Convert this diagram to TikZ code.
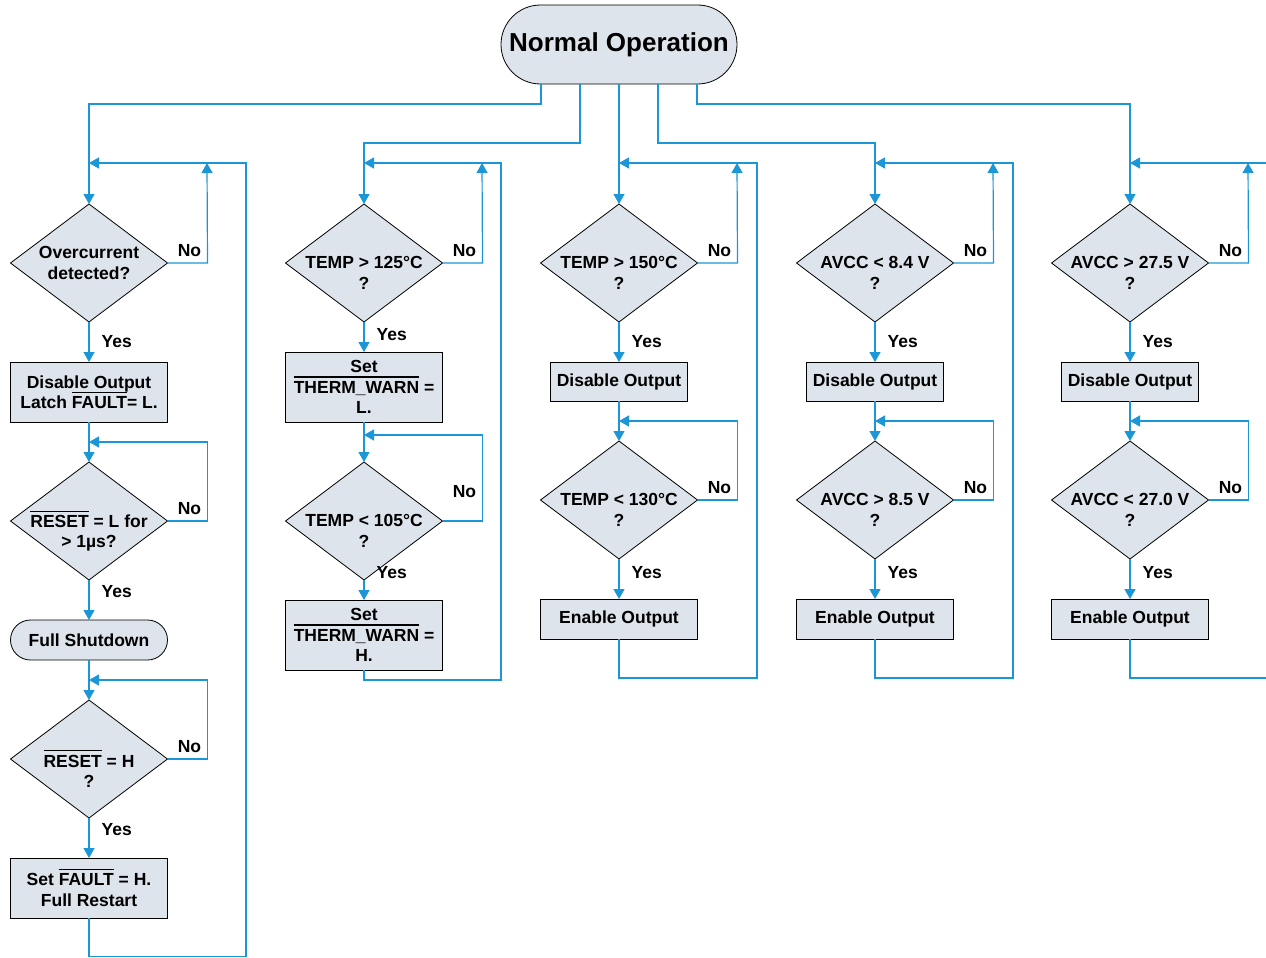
\documentclass[tikz,border=0pt]{standalone}
\usepackage{fontspec}
\setmainfont{Liberation Sans}
\usepackage{tikz}
\usetikzlibrary{shapes.geometric, arrows.meta, positioning, calc}

\definecolor{flowblue}{RGB}{27,150,214}
\definecolor{boxgray}{RGB}{222,228,235}

\newcommand{\notsig}[1]{\leavevmode\vbox{\hrule height 1.1pt\kern 3.5pt\hbox{#1}}}

\begin{document}
\begin{tikzpicture}[
    x=1pt, y=-1pt,
    node distance=40pt,
    font=\fontsize{17.5}{20.5}\selectfont\bfseries,
    test/.style={diamond, draw, fill=boxgray, line width=0.8pt, outer sep=0pt, minimum width=157pt, minimum height=118pt, inner sep=0pt},
    qtext/.style={align=center, inner sep=0pt, yshift=-10pt},
    act/.style={rectangle, draw, fill=boxgray, line width=0.8pt, outer sep=0pt, minimum width=157pt, minimum height=60pt, inner sep=0pt, align=center},
    state/.style={rectangle, rounded corners=20pt, draw, fill=boxgray, line width=0.8pt, outer sep=0pt, minimum width=157pt, minimum height=40pt, inner sep=0pt},
    arrow/.style={-{Triangle[length=10pt, width=11pt]}, draw=flowblue, line width=1.2pt},
    no/.style={above=6pt, pos=0.55, inner sep=0pt},
    yes/.style={right=12pt, inner sep=0pt}
]
    \useasboundingbox (0,0) rectangle (1266,958);

    \node[state, rounded corners=39.5pt, minimum width=236pt, minimum height=79pt, font=\fontsize{26}{30}\selectfont\bfseries] (normal) at (619,44.5) {Normal Operation};

    % overcurrent
    \node[test, label={[qtext, yshift=10pt]center:{Overcurrent\\detected?}}] (ocp) at (89,263) {};
    \node[act, below=of ocp] (latch) {Disable Output\\Latch \notsig{FAULT}= L.};
    \node[test, below=of latch, label={[qtext]center:{\notsig{RESET} = L for\\> 1µs?}}] (rstlo) {};
    \node[state, below=of rstlo] (shut) {Full Shutdown};
    \node[test, below=of shut, label={[qtext]center:{\notsig{RESET} = H\\?}}] (rsthi) {};
    \node[act, below=of rsthi] (restart) {Set \notsig{FAULT} = H.\\Full Restart};

    % thermal warning
    \node[test, label={[qtext]center:{TEMP > 125°C\\?}}] (warn1) at (364,263) {};
    \node[act, minimum height=70pt, below=30pt of warn1] (warnL) {Set\\\notsig{THERM\_WARN} =\\L.};
    \node[test, below=of warnL, label={[qtext]center:{TEMP < 105°C\\?}}] (warn2) {};
    \node[act, minimum height=70pt, below=20pt of warn2] (warnH) {Set\\\notsig{THERM\_WARN} =\\H.};

    % thermal shutdown
    \node[test, label={[qtext]center:{TEMP > 150°C\\?}}] (tsd1) at (619,263) {};
    \node[act, minimum width=137pt, minimum height=39pt, below=of tsd1] (tsdoff) {Disable Output};
    \node[test, below=of tsdoff, label={[qtext]center:{TEMP < 130°C\\?}}] (tsd2) {};
    \node[act, minimum height=40pt, below=of tsd2] (tsdon) {Enable Output};

    % undervoltage
    \node[test, label={[qtext]center:{AVCC < 8.4 V\\?}}] (uv1) at (875,263) {};
    \node[act, minimum width=137pt, minimum height=39pt, below=of uv1] (uvoff) {Disable Output};
    \node[test, below=of uvoff, label={[qtext]center:{AVCC > 8.5 V\\?}}] (uv2) {};
    \node[act, minimum height=40pt, below=of uv2] (uvon) {Enable Output};

    % overvoltage
    \node[test, label={[qtext]center:{AVCC > 27.5 V\\?}}] (ov1) at (1130,263) {};
    \node[act, minimum width=137pt, minimum height=39pt, below=of ov1] (ovoff) {Disable Output};
    \node[test, below=of ovoff, label={[qtext]center:{AVCC < 27.0 V\\?}}] (ov2) {};
    \node[act, minimum height=40pt, below=of ov2] (ovon) {Enable Output};

    % entry points of the loops
    \coordinate (ocpin) at (ocp.north |- 0,163);
    \coordinate (warnin) at (warn1.north |- 0,163);
    \coordinate (tsdin) at (tsd1.north |- 0,163);
    \coordinate (uvin) at (uv1.north |- 0,163);
    \coordinate (ovin) at (ov1.north |- 0,163);
    \coordinate (rstloin) at ($(latch.south)!0.5!(rstlo.north)$);
    \coordinate (rsthiin) at ($(shut.south)!0.5!(rsthi.north)$);
    \coordinate (warn2in) at ($(warnL.south)+(0,13)$);
    \coordinate (tsd2in) at ($(tsdoff.south)!0.5!(tsd2.north)$);
    \coordinate (uv2in) at ($(uvoff.south)!0.5!(uv2.north)$);
    \coordinate (ov2in) at ($(ovoff.south)!0.5!(ov2.north)$);

    % from Normal Operation
    \draw[arrow] ([xshift=-78pt]normal.south) -- ++(0,20) -| (ocp.north);
    \draw[arrow] ([xshift=-39pt]normal.south) -- ++(0,59) -| (warn1.north);
    \draw[arrow] (normal.south) -- (tsd1.north);
    \draw[arrow] ([xshift=39pt]normal.south) -- ++(0,59) -| (uv1.north);
    \draw[arrow] ([xshift=78pt]normal.south) -- ++(0,20) -| (ov1.north);

    % overcurrent branch
    \draw[arrow] (ocp.east) -- node[no] {No} ++(40,0) -- ($(ocpin)+(118,0)$);
    \draw[arrow] (ocp.south) -- node[yes] {Yes} (latch.north);
    \draw[arrow] (latch.south) -- (rstlo.north);
    \draw[arrow] (rstlo.east) -- node[no] {No} ++(40,0) |- (rstloin);
    \draw[arrow] (rstlo.south) -- node[yes, pos=0.3] {Yes} (shut.north);
    \draw[arrow] (shut.south) -- (rsthi.north);
    \draw[arrow] (rsthi.east) -- node[no] {No} ++(40,0) |- (rsthiin);
    \draw[arrow] (rsthi.south) -- node[yes, pos=0.3] {Yes} (restart.north);
    \draw[arrow] (restart.south) -- ++(0,38.5) -| ($(ocpin)+(157,0)$) -- (ocpin);

    % thermal warning branch
    \draw[arrow] (warn1.east) -- node[no] {No} ++(40,0) -- ($(warnin)+(118,0)$);
    \draw[arrow] (warn1.south) -- node[yes, pos=0.43] {Yes} (warnL.north);
    \draw[arrow] (warnL.south) -- (warn2.north);
    \draw[arrow] (warn2.east) -- node[no, above=23pt] {No} ++(40,0) |- (warn2in);
    \draw[arrow] (warn2.south) -- node[yes, pos=-0.35] {Yes} (warnH.north);
    \draw[arrow] (warnH.south) -- ++(0,10) -| ($(warnin)+(137,0)$) -- (warnin);

    % thermal shutdown branch
    \draw[arrow] (tsd1.east) -- node[no] {No} ++(40,0) -- ($(tsdin)+(118,0)$);
    \draw[arrow] (tsd1.south) -- node[yes] {Yes} (tsdoff.north);
    \draw[arrow] (tsdoff.south) -- (tsd2.north);
    \draw[arrow] (tsd2.east) -- node[no] {No} ++(40,0) |- (tsd2in);
    \draw[arrow] (tsd2.south) -- node[yes, pos=0.35] {Yes} (tsdon.north);
    \draw[arrow] (tsdon.south) -- ++(0,39) -| ($(tsdin)+(138,0)$) -- (tsdin);

    % undervoltage branch
    \draw[arrow] (uv1.east) -- node[no] {No} ++(40,0) -- ($(uvin)+(118,0)$);
    \draw[arrow] (uv1.south) -- node[yes] {Yes} (uvoff.north);
    \draw[arrow] (uvoff.south) -- (uv2.north);
    \draw[arrow] (uv2.east) -- node[no] {No} ++(40,0) |- (uv2in);
    \draw[arrow] (uv2.south) -- node[yes, pos=0.35] {Yes} (uvon.north);
    \draw[arrow] (uvon.south) -- ++(0,39) -| ($(uvin)+(138,0)$) -- (uvin);

    % overvoltage branch
    \draw[arrow] (ov1.east) -- node[no] {No} ++(40,0) -- ($(ovin)+(118,0)$);
    \draw[arrow] (ov1.south) -- node[yes] {Yes} (ovoff.north);
    \draw[arrow] (ovoff.south) -- (ov2.north);
    \draw[arrow] (ov2.east) -- node[no] {No} ++(40,0) |- (ov2in);
    \draw[arrow] (ov2.south) -- node[yes, pos=0.35] {Yes} (ovon.north);
    \draw[arrow] (ovon.south) -- ++(0,39) -| ($(ovin)+(142,0)$) -- (ovin);
\end{tikzpicture}
\end{document}
